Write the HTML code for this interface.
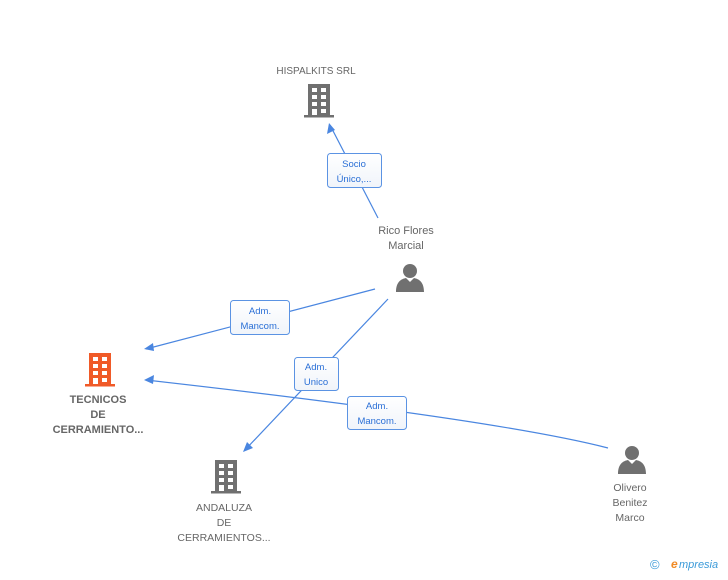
<!DOCTYPE html>
<html><head><meta charset="utf-8"><style>
body{margin:0;background:#fff;width:728px;height:575px;overflow:hidden;font-family:"Liberation Sans",sans-serif}
svg text{font-family:"Liberation Sans",sans-serif}
</style></head><body>
<svg width="728" height="575" xmlns="http://www.w3.org/2000/svg">
<defs>
<g id="bld">
<rect x="4" y="0" width="22" height="31"/>
<rect x="0" y="31" width="30" height="2.5"/>
<g fill="#fff">
<rect x="8" y="4" width="5" height="4"/><rect x="17" y="4" width="5" height="4"/>
<rect x="8" y="11" width="5" height="4"/><rect x="17" y="11" width="5" height="4"/>
<rect x="8" y="18" width="5" height="4"/><rect x="17" y="18" width="5" height="4"/>
<rect x="8" y="25" width="5" height="6"/><rect x="17" y="25" width="5" height="4"/>
</g>
</g>
<g id="per">
<circle cx="14" cy="8" r="7"/>
<path d="M0 29 C0 19 5 16 10 15 L14 19 L18 15 C23 16 28 19 28 29 Z"/>
</g>
<linearGradient id="lg" x1="0" y1="0" x2="0" y2="1"><stop offset="0" stop-color="#fff"/><stop offset="1" stop-color="#f0f4fa"/></linearGradient>
</defs>
<g stroke="#4a86e0" stroke-width="1.2" fill="none">
<line x1="378" y1="218" x2="330" y2="125"/>
<line x1="375" y1="289" x2="146" y2="349"/>
<line x1="388" y1="299" x2="244" y2="451"/>
<path d="M608 448 Q500 420 146 380"/>
</g>
<g fill="#4a86e0">
<path d="M329 123 L327 134 L335 130 Z"/>
<path d="M144 349 L153 343 L154 351 Z"/>
<path d="M243 452 L247 442 L253 448 Z"/>
<path d="M144 380 L154 375 L153 384 Z"/>
</g>
<g stroke="#5b93e3" fill="url(#lg)">
<rect x="327.5" y="153.5" width="54" height="34" rx="3"/>
<rect x="230.5" y="300.5" width="59" height="34" rx="3"/>
<rect x="294.5" y="357.5" width="44" height="33" rx="3"/>
<rect x="347.5" y="396.5" width="59" height="33" rx="3"/>
</g>
<g fill="#2a6fd6" font-size="9.5" text-anchor="middle">
<text x="354" y="167">Socio</text><text x="354" y="182">Único,...</text>
<text x="260" y="314">Adm.</text><text x="260" y="329">Mancom.</text>
<text x="316" y="370">Adm.</text><text x="316" y="385">Unico</text>
<text x="377" y="409">Adm.</text><text x="377" y="424">Mancom.</text>
</g>
<g fill="#707070">
<use href="#bld" x="304" y="84"/>
<use href="#bld" x="211" y="460"/>
<use href="#per" x="396" y="263"/>
<use href="#per" x="618" y="445"/>
</g>
<use href="#bld" x="85" y="353" fill="#f05a28"/>
<g fill="#666" font-size="11" text-anchor="middle">
<text x="316" y="74" font-size="10">HISPALKITS SRL</text>
<text x="406" y="234">Rico Flores</text><text x="406" y="249">Marcial</text>
<text x="98" y="403" font-weight="bold">TECNICOS</text>
<text x="98" y="418" font-weight="bold">DE</text>
<text x="98" y="433" font-weight="bold">CERRAMIENTO...</text>
<text x="224" y="511" font-size="10.5">ANDALUZA</text>
<text x="224" y="526" font-size="10.5">DE</text>
<text x="224" y="541" font-size="10.5">CERRAMIENTOS...</text>
<text x="630" y="491" font-size="10.5">Olivero</text>
<text x="630" y="506" font-size="10.5">Benitez</text>
<text x="630" y="521" font-size="10.5">Marco</text>
</g>
<text x="650" y="569" font-size="13" fill="#3a9ad9">©</text>
<text x="671" y="568" font-size="12" fill="#f08a24" font-style="italic" font-weight="bold">e</text>
<text x="679" y="568" font-size="11" fill="#3a9ad9" font-style="italic">mpresia</text>
</svg>
</body></html>
